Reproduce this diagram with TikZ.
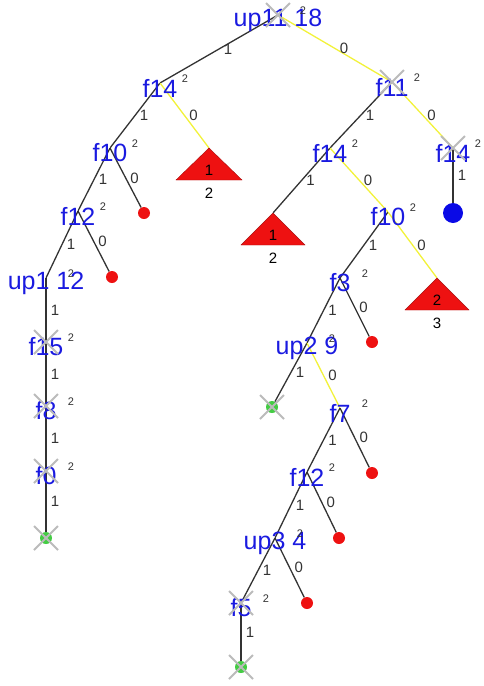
\documentclass[tikz,border=0pt]{standalone}
\usepackage{fontspec}
\setmainfont{Liberation Sans}
\usetikzlibrary{backgrounds}
\definecolor{vblue}{HTML}{1A1AE0}
\definecolor{ink}{HTML}{333333}
\definecolor{hiyellow}{HTML}{F2F23A}
\definecolor{dotred}{HTML}{EE1111}
\definecolor{dotblue}{HTML}{0A0AE6}
\definecolor{leafgreen}{HTML}{44CC44}
\definecolor{xgray}{HTML}{BBBBBB}
\tikzset{
  vert/.style={inner sep=0pt, minimum size=0pt},
  vname/.style={font=\fontsize{25}{25}\selectfont, text=vblue, inner sep=0pt, yshift=-5pt},
  sup/.style={font=\fontsize{11}{11}\selectfont, text=ink, inner sep=0pt, xshift=25pt, yshift=4pt},
  vtx/.style={vert, label={[vname]center:#1}, label={[sup]center:2}},
  elab/.style={font=\fontsize{15}{15}\selectfont, text=ink, midway, xshift=9pt, inner sep=0pt},
  hi/.style={draw=ink, line width=1.3pt},
  lo/.style={draw=hiyellow, line width=1.3pt},
  reddot/.style={circle, fill=dotred, minimum size=12pt, inner sep=0pt},
  bluedot/.style={circle, fill=dotblue, minimum size=20pt, inner sep=0pt},
  leaf/.style={circle, fill=leafgreen, minimum size=12pt, inner sep=0pt},
  xmark/.style={draw=xgray, line width=2pt},
  tri/.style={fill=dotred, draw=dotred!70!black, line width=0.4pt},
  tlab/.style={font=\fontsize{15}{15}\selectfont, text=black, inner sep=0pt}
}
\begin{document}
\begin{tikzpicture}[x=1pt, y=-1pt]
\useasboundingbox (0,0) rectangle (484,686);
\node[vtx=up11 18] (root) at (278,15) {};
\node[vtx=f14] (f14a) at (160,83) {};
\node[vtx=f11] (f11) at (392,82) {};
\node[vtx=f10] (f10a) at (110,148) {};
\node[vert] (t1) at (209,148) {};
\node[reddot] (rd1) at (144,213) {};
\node[vtx=f12] (f12a) at (78,211) {};
\node[reddot] (rd2) at (112,277) {};
\node[vtx=up1 12] (up1) at (46,278) {};
\node[vtx=f15] (f15) at (46,342) {};
\node[vtx=f8] (f8) at (46,406) {};
\node[vtx=f0] (f0) at (46,471) {};
\node[leaf] (lf1) at (46,538) {};
\node[vtx=f14] (f14b) at (330,148) {};
\node[vtx=f14] (f14c) at (453,148) {};
\node[bluedot] (bd) at (453,213) {};
\node[vert] (t2) at (273,213) {};
\node[vtx=f10] (f10b) at (388,212) {};
\node[vert] (t3) at (437,278) {};
\node[vtx=f3] (f3) at (340,278) {};
\node[reddot] (rd3) at (372,342) {};
\node[vtx=up2 9] (up2) at (307,343) {};
\node[leaf] (lf2) at (272,407) {};
\node[vtx=f7] (f7) at (340,408) {};
\node[reddot] (rd4) at (372,473) {};
\node[vtx=f12] (f12b) at (307,472) {};
\node[reddot] (rd5) at (339,538) {};
\node[vtx=up3 4] (up3) at (275,538) {};
\node[reddot] (rd6) at (307,603) {};
\node[vtx=f5] (f5) at (241,603) {};
\node[leaf] (lf3) at (241,667) {};
\fill[tri] (t1.center) -- ++(-33,32) -- ++(66,0) -- cycle;
\fill[tri] (t2.center) -- ++(-32,32) -- ++(64,0) -- cycle;
\fill[tri] (t3.center) -- ++(-32,32) -- ++(64,0) -- cycle;
\node[tlab] (t1a) at ([yshift=-22pt]t1.center) {1};
\node[tlab] (t1b) at ([yshift=-45pt]t1.center) {2};
\node[tlab] (t2a) at ([yshift=-22pt]t2.center) {1};
\node[tlab] (t2b) at ([yshift=-45pt]t2.center) {2};
\node[tlab] (t3a) at ([yshift=-22pt]t3.center) {2};
\node[tlab] (t3b) at ([yshift=-45pt]t3.center) {3};
\begin{scope}[on background layer]
\draw[hi] (root) -- node[elab]{1} (f14a);
\draw[lo] (root) -- node[elab]{0} (f11);
\draw[hi] (f14a) -- node[elab]{1} (f10a);
\draw[lo] (f14a) -- node[elab]{0} (t1);
\draw[hi] (f10a) -- node[elab]{1} (f12a);
\draw[hi] (f10a) -- node[elab]{0} (rd1);
\draw[hi] (f12a) -- node[elab]{1} (up1);
\draw[hi] (f12a) -- node[elab]{0} (rd2);
\draw[hi] (up1) -- node[elab]{1} (f15);
\draw[hi] (f15) -- node[elab]{1} (f8);
\draw[hi] (f8) -- node[elab]{1} (f0);
\draw[hi] (f0) -- node[elab]{1} (lf1);
\draw[hi] (f11) -- node[elab]{1} (f14b);
\draw[lo] (f11) -- node[elab]{0} (f14c);
\draw[hi] (f14c) -- node[elab]{1} (bd);
\draw[hi] (f14b) -- node[elab]{1} (t2);
\draw[lo] (f14b) -- node[elab]{0} (f10b);
\draw[hi] (f10b) -- node[elab]{1} (f3);
\draw[lo] (f10b) -- node[elab]{0} (t3);
\draw[hi] (f3) -- node[elab]{1} (up2);
\draw[hi] (f3) -- node[elab]{0} (rd3);
\draw[hi] (up2) -- node[elab]{1} (lf2);
\draw[lo] (up2) -- node[elab]{0} (f7);
\draw[hi] (f7) -- node[elab]{1} (f12b);
\draw[hi] (f7) -- node[elab]{0} (rd4);
\draw[hi] (f12b) -- node[elab]{1} (up3);
\draw[hi] (f12b) -- node[elab]{0} (rd5);
\draw[hi] (up3) -- node[elab]{1} (f5);
\draw[hi] (up3) -- node[elab]{0} (rd6);
\draw[hi] (f5) -- node[elab]{1} (lf3);
\end{scope}
\foreach \n in {root,f11,f14c,f15,f8,f0,lf1,lf2,f5,lf3}
  \draw[xmark] ([shift={(-12,-12)}]\n.center) -- ([shift={(12,12)}]\n.center)
    ([shift={(-12,12)}]\n.center) -- ([shift={(12,-12)}]\n.center);
\end{tikzpicture}
\end{document}
